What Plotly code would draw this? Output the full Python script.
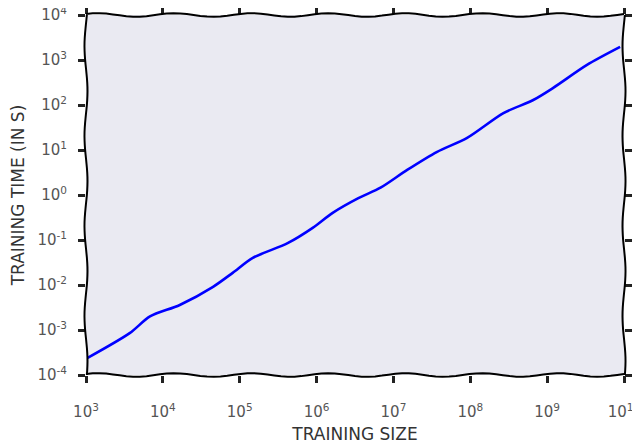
"""Training time vs training size, xkcd-like log-log line chart."""

import math

import plotly.graph_objects as go

# values
training_size = [
    1.05e3, 3.7e3, 6.8e3, 1.66e4, 4.5e4, 8.1e4, 1.48e5, 4.2e5, 8.9e5,
    1.62e6, 3.5e6, 6.8e6, 1.51e7, 3.7e7, 9.1e7, 2.7e8, 6.6e8, 1.2e9,
    3.3e9, 8.9e9,
]
training_time = [
    2.4e-4, 8.5e-4, 2.0e-3, 3.6e-3, 9.1e-3, 1.86e-2, 4.0e-2, 8.5e-2, 0.186,
    0.40, 0.85, 1.45, 3.6, 9.1, 18.6, 66, 129, 240,
    776, 1950,
]
x_exponents = [3, 4, 5, 6, 7, 8, 9, 10]
y_exponents = [-4, -3, -2, -1, 0, 1, 2, 3, 4]

W, H = 640, 448
# the page body adds an 8px offset, margins compensate for it
MARGIN = dict(l=78, r=24, t=7, b=81)


def _wavy(horizontal, fixed, waves, amp):
    """Hand-drawn looking border path in paper coordinates."""
    pts = []
    n = 80
    for i in range(n + 1):
        t = i / n
        off = amp * math.sin(2 * math.pi * waves * t + 0.6)
        pts.append((t, fixed + off) if horizontal else (fixed + off, t))
    return 'M ' + ' L '.join(f'{a:.4f},{b:.4f}' for a, b in pts)


pw = W - MARGIN['l'] - MARGIN['r']
ph = H - MARGIN['t'] - MARGIN['b']

fig = go.Figure()
fig.add_trace(go.Scatter(
    x=training_size,
    y=training_time,
    mode='lines',
    line=dict(color='#0000ff', width=2.6, shape='spline', smoothing=0.8),
    showlegend=False,
))

border = dict(color='black', width=2)
shapes = [
    dict(type='path', xref='paper', yref='paper', line=border,
         path=_wavy(True, 0, 7, 1.8 / ph)),
    dict(type='path', xref='paper', yref='paper', line=border,
         path=_wavy(True, 1, 7, 1.8 / ph)),
    dict(type='path', xref='paper', yref='paper', line=border,
         path=_wavy(False, 0, 4, 1.5 / pw)),
    dict(type='path', xref='paper', yref='paper', line=border,
         path=_wavy(False, 1, 4, 1.5 / pw)),
]

tick_font = dict(family='DejaVu Sans', size=15, color='#555555')
title_font = dict(family='DejaVu Sans', size=17, color='#333333')

fig.update_layout(
    width=W,
    height=H,
    margin=MARGIN,
    paper_bgcolor='white',
    plot_bgcolor='#eaeaf2',
    shapes=shapes,
    xaxis=dict(
        type='log',
        range=[3, 10],
        tickvals=[10 ** e for e in x_exponents],
        ticktext=[f'10<sup>{e}</sup>' for e in x_exponents],
        ticks='outside', ticklen=7, tickwidth=3, tickcolor='#222222',
        mirror='allticks', showline=False, showgrid=False, zeroline=False,
        tickfont=tick_font, ticklabelstandoff=16, automargin=False,
        ticklabeloverflow='allow',
        title=dict(text='TRAINING SIZE', font=title_font, standoff=8),
    ),
    yaxis=dict(
        type='log',
        range=[-4, 4],
        tickvals=[10 ** e for e in y_exponents],
        ticktext=[f'10<sup>{e}</sup>' for e in y_exponents],
        ticks='outside', ticklen=7, tickwidth=3, tickcolor='#222222',
        mirror='allticks', showline=False, showgrid=False, zeroline=False,
        tickfont=tick_font, ticklabelstandoff=8, automargin=False,
        ticklabeloverflow='allow',
        title=dict(text='TRAINING TIME (IN S)', font=title_font, standoff=12),
    ),
)

fig.write_html("out.html")
